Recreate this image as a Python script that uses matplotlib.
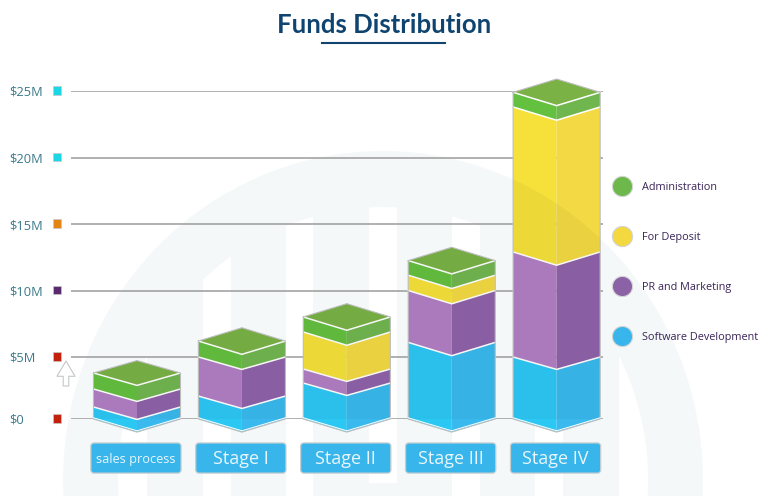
import numpy as np
import matplotlib
matplotlib.use("Agg")
import matplotlib.pyplot as plt
from matplotlib.lines import Line2D
from matplotlib.patches import Ellipse, FancyBboxPatch, Rectangle
from matplotlib.path import Path

# Values in $M
stages = ["sales process", "Stage I", "Stage II", "Stage III", "Stage IV"]
software_dev = [0.97, 1.85, 2.9, 6.1, 5.0]
pr_marketing = [1.45, 3.15, 1.13, 3.9, 7.9]
for_deposit = [0, 0, 2.85, 1.15, 10.9]
administration = [1.29, 1.2, 1.13, 1.1, 1.1]

tick_values = [0, 5, 10, 15, 20, 25]
tick_labels = ["$0", "$5M", "$10M", "$15M", "$20M", "$25M"]
tick_square_colors = ["#C4200E", "#C4200E", "#5A2A6E", "#E28512", "#1BD7E6", "#1BD7E6"]

series_names = ["Administration", "For Deposit", "PR and Marketing", "Software Development"]
legend_colors = ["#6DB84A", "#F3D93F", "#8C62A6", "#38B6EC"]

# (left face, right face) for each layer, bottom to top
layers = [
    (software_dev, "#2CC8F4", "#39B9EE"),
    (pr_marketing, "#B17FC3", "#9062A8"),
    (for_deposit, "#F5E13A", "#F3D943"),
    (administration, "#64C03F", "#70B64F"),
]
TOP_COLOR = "#7AB246"
OUTLINE = "#BDBDBD"
SHADE = "#F5F8F9"

HALF_WIDTH = 0.415
DEPTH = 1.0


# The 0-5 gridline gap is a bit smaller than the others in the picture
def forward(v):
    return np.interp(v, [-10, 0, 5, 25, 60], [-131, 0, 62, 328, 794])


def inverse(p):
    return np.interp(p, [-131, 0, 62, 328, 794], [-10, 0, 5, 25, 60])


fig = plt.figure(figsize=(7.68, 4.96), dpi=100)

# Background layer in pixels: watermark, title, arrow
bg = fig.add_axes([0, 0, 1, 1], zorder=0)
bg.set_xlim(0, 768)
bg.set_ylim(496, 0)
bg.axis("off")

bg.add_patch(Ellipse((383, 480), 640, 658, color=SHADE, lw=0))
inner = Ellipse((383, 480), 530, 546, color="none", lw=0)
bg.add_patch(inner)
for x0, x1, y1 in [(118, 147, 496), (203, 231, 496), (286, 313, 496), (369, 397, 483),
                   (452, 480, 496), (535, 563, 496), (619, 648, 496)]:
    strip = Rectangle((x0, 150), x1 - x0, y1 - 150, color="white", lw=0)
    bg.add_patch(strip)
    strip.set_clip_path(inner)

bg.text(384, 25, "Funds Distribution", family="Lato", weight="bold", fontsize=18.5,
        color="#0F4470", ha="center", va="center")
bg.plot([322, 445], [42.5, 42.5], color="#0F4470", lw=1.5)
bg.annotate("", xy=(66, 361), xytext=(66, 386),
            arrowprops=dict(arrowstyle="simple,head_length=1.1,head_width=1.3,tail_width=0.4",
                            fc="white", ec="#C4C8C8", lw=0.8, shrinkA=0, shrinkB=0))

# Chart layer
ax = fig.add_axes([71 / 768, (496 - 419) / 496, 532 / 768, 328 / 496], zorder=1)
ax.patch.set_visible(False)
ax.set_yscale("function", functions=(forward, inverse))
ax.set_xlim(-0.629, 4.442)
ax.set_ylim(0, 25)
for side in ax.spines.values():
    side.set_visible(False)

ax.set_xticks([])
ax.set_yticks(tick_values)
ax.set_yticklabels(tick_labels, family="Open Sans", fontsize=9.3, color="#3B7A8A", ha="left")
ax.yaxis.set_minor_locator(matplotlib.ticker.NullLocator())
ax.tick_params(axis="y", length=0, pad=44.5)
ax.set_axisbelow(True)
ax.grid(axis="y", color="#9B9B9B", lw=1.1)

ax.scatter([-14 / 532] * len(tick_values), [v + 0.05 for v in tick_values], s=36, marker="s",
           c=tick_square_colors, edgecolors="#C8C8C8", linewidths=0.5,
           transform=ax.get_yaxis_transform(), clip_on=False, zorder=3)

for i, stage in enumerate(stages):
    left = i - HALF_WIDTH
    right = i + HALF_WIDTH
    base = 0
    for values, left_color, right_color in layers:
        v = values[i]
        if v == 0:
            continue
        top = base + v
        ax.fill([left, i, i, left], [base, base - DEPTH, top - DEPTH, top],
                color=left_color, lw=0, clip_on=False, zorder=3)
        ax.fill([i, right, right, i], [base - DEPTH, base, top, top - DEPTH],
                color=right_color, lw=0, clip_on=False, zorder=3)
        if base > 0:
            ax.plot([left, i, right], [base, base - DEPTH, base], color="white", lw=1.1,
                    clip_on=False, zorder=4)
        base = top

    ax.fill([left, i, right, i], [base, base - DEPTH, base, base + DEPTH],
            color=TOP_COLOR, lw=0, clip_on=False, zorder=3)
    ax.plot([left, i, right], [base, base - DEPTH, base], color="white", lw=1.1,
            clip_on=False, zorder=4)

    # The watermark shows faintly through the bars
    outline_x = [left, i, right, right, i, left, left]
    outline_y = [base, base + DEPTH, base, 0, -DEPTH, 0, base]
    through = Ellipse((383, 480), 640, 658, fc="black", alpha=0.035, lw=0,
                      transform=bg.transData, zorder=4.5)
    ax.add_patch(through)
    through.set_clip_path(Path(np.column_stack([outline_x, outline_y])), ax.transData)

    ax.plot(outline_x, outline_y, color=OUTLINE, lw=0.8, clip_on=False, zorder=5)
    ax.plot([left, i, right], [0.1, 0.1 - DEPTH, 0.1], color="white", lw=0.7,
            clip_on=False, zorder=5)

    # Stage label box
    box = FancyBboxPatch((i - 0.44, -4.13), 0.86, 2.3, boxstyle="round,pad=0,rounding_size=0.03",
                         mutation_aspect=8.0, fc="#38B6EC", ec="#C6CED0", lw=0.9,
                         clip_on=False, zorder=3)
    ax.add_patch(box)
    ax.text(i - 0.01, -3.08, stage, family="Open Sans", fontsize=9.2 if i == 0 else 13,
            color="#E8F6FC", ha="center", va="center", zorder=4)

handles = [Line2D([], [], ls="", marker="o", ms=14.5, mfc=c, mec="#D4D4D4", mew=0.8)
           for c in legend_colors]
ax.legend(handles, series_names, loc="center left", bbox_to_anchor=(613 / 768, 233.5 / 496),
          bbox_transform=fig.transFigure, frameon=False, labelcolor="#3A2458",
          prop=dict(family="Open Sans", size=7.8), labelspacing=3.6, handlelength=1.6,
          handletextpad=1.05, borderpad=0, borderaxespad=0)

fig.savefig("out.png", dpi=100)
